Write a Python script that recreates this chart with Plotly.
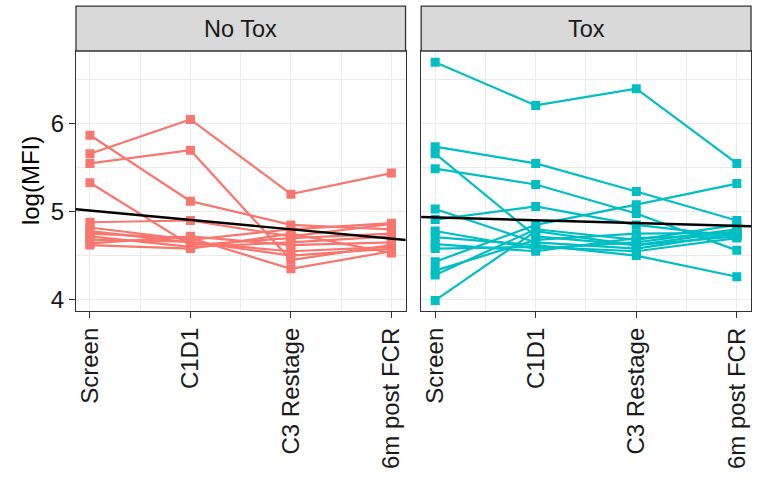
import plotly.graph_objects as go

# Time points on the x axis
timepoints = ["Screen", "C1D1", "C3 Restage", "6m post FCR"]

# log(MFI) per patient across the four time points — No Tox group
no_tox_p01 = [5.66, 6.05, 5.20, 5.44]
no_tox_p02 = [5.55, 5.70, 4.45, 4.62]
no_tox_p03 = [5.87, 5.12, 4.85, 4.80]
no_tox_p04 = [5.33, 4.62, 4.70, 4.75]
no_tox_p05 = [4.88, 4.90, 4.72, 4.86]
no_tox_p06 = [4.82, 4.68, 4.80, 4.87]
no_tox_p07 = [4.78, 4.65, 4.55, 4.60]
no_tox_p08 = [4.75, 4.70, 4.35, 4.55]
no_tox_p09 = [4.72, 4.60, 4.65, 4.72]
no_tox_p10 = [4.68, 4.66, 4.50, 4.58]
no_tox_p11 = [4.64, 4.72, 4.62, 4.65]
no_tox_p12 = [4.62, 4.58, 4.75, 4.53]

# log(MFI) per patient — Tox group
tox_p01 = [6.70, 6.21, 6.40, 5.55]
tox_p02 = [5.74, 5.55, 5.23, 4.90]
tox_p03 = [5.66, 4.72, 4.62, 4.78]
tox_p04 = [5.49, 5.31, 4.98, 4.56]
tox_p05 = [5.03, 4.65, 4.58, 4.75]
tox_p06 = [4.91, 5.06, 4.85, 4.72]
tox_p07 = [4.78, 4.58, 4.65, 4.80]
tox_p08 = [4.71, 4.62, 4.50, 4.26]
tox_p09 = [4.63, 4.55, 4.70, 4.74]
tox_p10 = [4.58, 4.60, 4.55, 4.70]
tox_p11 = [4.43, 4.85, 5.08, 5.32]
tox_p12 = [4.33, 4.68, 4.75, 4.76]
tox_p13 = [4.28, 4.80, 4.68, 4.85]
tox_p14 = [3.99, 4.78, 4.62, 4.72]

no_tox = [no_tox_p01, no_tox_p02, no_tox_p03, no_tox_p04, no_tox_p05, no_tox_p06,
          no_tox_p07, no_tox_p08, no_tox_p09, no_tox_p10, no_tox_p11, no_tox_p12]
tox = [tox_p01, tox_p02, tox_p03, tox_p04, tox_p05, tox_p06, tox_p07,
       tox_p08, tox_p09, tox_p10, tox_p11, tox_p12, tox_p13, tox_p14]

# Linear trend (intercept at Screen, slope per time step) for each group
no_tox_fit = [5.014, -0.107]
tox_fit = [4.935, -0.032]

RED = "#F8766D"
CYAN = "#00BFC4"
FONT = "Liberation Sans, Arial, sans-serif"
TICK_SIZE = 24
STRIP_SIZE = 23.5
TITLE_SIZE = 24

x_pos = list(range(len(timepoints)))
fig = go.Figure()

for vals in no_tox:
    fig.add_trace(go.Scatter(x=x_pos, y=vals, mode="lines+markers",
                             line=dict(color=RED, width=2.2),
                             marker=dict(symbol="square", size=9, color=RED),
                             xaxis="x", yaxis="y", showlegend=False))
for vals in tox:
    fig.add_trace(go.Scatter(x=x_pos, y=vals, mode="lines+markers",
                             line=dict(color=CYAN, width=2.2),
                             marker=dict(symbol="square", size=9, color=CYAN),
                             xaxis="x2", yaxis="y2", showlegend=False))

fit_x = [-0.5, 3.5]
for (a, b), xa, ya in [(no_tox_fit, "x", "y"), (tox_fit, "x2", "y2")]:
    fig.add_trace(go.Scatter(x=fit_x, y=[a + b * v for v in fit_x], mode="lines",
                             line=dict(color="black", width=2.4),
                             xaxis=xa, yaxis=ya, showlegend=False, hoverinfo="skip"))

grid = "#EBEBEB"
frame = "#333333"
xcommon = dict(range=[-0.139, 3.141], tickmode="array", tickvals=x_pos, ticktext=timepoints,
               tickangle=-90, ticks="outside", ticklen=6, tickwidth=1.3, tickcolor=frame,
               showline=True, mirror=True, linecolor=frame, linewidth=1.3,
               showgrid=True, gridcolor=grid, gridwidth=1.4, zeroline=False,
               tickfont=dict(family=FONT, size=TICK_SIZE, color="#1A1A1A"),
               minor=dict(tickmode="array", tickvals=[0.5, 1.5, 2.5], showgrid=True,
                          gridcolor=grid, gridwidth=0.8, ticks=""))
ycommon = dict(range=[3.870, 6.829], tickmode="array", tickvals=[4, 5, 6],
               showline=True, mirror=True, linecolor=frame, linewidth=1.3,
               showgrid=True, gridcolor=grid, gridwidth=1.4, zeroline=False,
               minor=dict(tickmode="array", tickvals=[4.5, 5.5, 6.5], showgrid=True,
                          gridcolor=grid, gridwidth=0.8, ticks=""))

fig.update_layout(
    width=764, height=481,
    margin=dict(l=76, r=12, t=51, b=167),
    paper_bgcolor="white", plot_bgcolor="white",
    font=dict(family=FONT, size=TICK_SIZE, color="#1A1A1A"),
    xaxis=dict(domain=[0, 0.4882], anchor="y", **xcommon),
    xaxis2=dict(domain=[0.5114, 1.0], anchor="y2", **xcommon),
    yaxis=dict(domain=[0, 1], anchor="x", ticks="outside", ticklen=6, tickwidth=1.3,
               tickcolor=frame, tickfont=dict(family=FONT, size=TICK_SIZE, color="#1A1A1A"),
               **ycommon),
    yaxis2=dict(domain=[0, 1], anchor="x2", matches="y", showticklabels=False,
                ticks="", **ycommon),
)

strip_h = 45.3 / 263
for xa, label in [("x", "No Tox"), ("x2", "Tox")]:
    fig.add_shape(type="rect", xref=f"{xa} domain", yref="paper",
                  x0=0, x1=1, y0=1, y1=1 + strip_h,
                  fillcolor="#D9D9D9", line=dict(color=frame, width=1.3), layer="above")
    fig.add_annotation(text=label, xref=f"{xa} domain", yref="paper",
                       x=0.5, y=1 + strip_h / 2, showarrow=False,
                       xanchor="center", yanchor="middle",
                       font=dict(family=FONT, size=STRIP_SIZE, color="#1A1A1A"))

fig.add_annotation(text="log(MFI)", xref="paper", yref="paper",
                   x=(30 - 76) / 676, y=0.5, textangle=-90, showarrow=False,
                   xanchor="center", yanchor="middle",
                   font=dict(family=FONT, size=TITLE_SIZE, color="black"))

fig.write_html("out.html")
